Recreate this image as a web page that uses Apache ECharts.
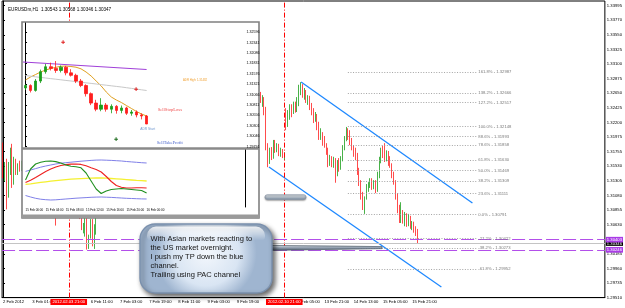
<!DOCTYPE html>
<html><head><meta charset="utf-8">
<script src="https://cdn.jsdelivr.net/npm/echarts/dist/echarts.min.js"></script>
<style>html,body{margin:0;padding:0;background:#fff;overflow:hidden}#chart{width:625px;height:308px}</style>
</head><body><div id="chart"></div>
<script>
// ===== Main chart: EURUSDm H1, bars from 2 Feb 2012 09:00 to 16 Feb 2012 00:00 =====
const openPrices = [
1.3180,1.3140,1.3155,1.3138,1.3152,1.3175,1.3130,1.3160,1.3148,1.3155,
1.3150,1.3158,1.3162,1.3155,1.3148,1.3160,1.3170,1.3165,1.3158,1.3162,
1.3168,1.3172,1.3165,1.3158,1.3150,1.3145,1.3152,1.3160,1.3155,1.3150,
1.3118,1.3135,1.3155,1.3162,1.3150,1.3145,1.3140,1.3105,1.3090,1.3084,
1.3080,1.3086,1.3082,1.3076,1.3058,1.3062,1.3072,1.3035,1.3045,
1.3068,1.3040,1.3060,1.3085,1.3105,1.3118,1.3125,1.3132,1.3140,1.3135,
1.3148,1.3155,1.3150,1.3160,1.3168,1.3162,1.3170,1.3178,1.3185,1.3180,
1.3192,1.3200,1.3195,1.3205,1.3212,1.3208,1.3218,1.3225,1.3220,1.3215,
1.3228,1.3235,1.3230,1.3238,1.3245,1.3240,1.3250,1.3255,1.3248,1.3252,
1.3260,1.3265,1.3258,1.3262,1.3270,1.3275,1.3268,1.3272,1.3280,1.3285,
1.3278,1.3270,1.3265,1.3272,1.3268,1.3262,1.3255,1.3260,1.3265,1.3270,
1.3262,1.3258,1.3265,1.3272,1.3278,1.3285,1.3280,1.3290,1.3298,1.3292,
1.3300,1.3308,1.3302,1.3310,1.3318,1.3312,1.3305,1.3296,1.3290,1.3285,
1.3292,1.3288,1.3280,1.3285,1.3290,1.3284,1.3278,1.3282,1.3288,1.3279,
1.3280,1.3248,1.3263,1.3256,1.3259,1.3240,1.3186,1.3160,1.3178,1.3168,
1.3191,1.3178,1.3184,1.3172,1.3178,1.3169,1.3240,1.3217,1.3229,1.3243,
1.3237,1.3249,1.3240,1.3256,1.3274,1.3277,1.3263,1.3268,1.3256,1.3259,
1.3245,1.3237,1.3228,1.3232,1.3213,1.3200,1.3205,1.3191,1.3186,1.3175,
1.3158,1.3166,1.3155,1.3163,1.3148,1.3158,1.3151,1.3166,1.3182,1.3197,
1.3206,1.3200,1.3191,1.3182,1.3175,1.3166,1.3148,1.3128,1.3109,1.3094,
1.3109,1.3120,1.3126,1.3132,1.3123,1.3129,1.3117,1.3140,1.3163,1.3175,
1.3171,1.3166,1.3174,1.3160,1.3154,1.3140,1.3129,1.3109,1.3086,1.3071,
1.3081,1.3071,1.3078,1.3068,1.3074,1.3061,1.3064,1.3057,1.30543];
const highPrices = [
1.3190,1.3160,1.3165,1.3160,1.3182,1.3188,1.3168,1.3165,1.3158,1.3162,
1.3162,1.3166,1.3165,1.3158,1.3164,1.3175,1.3174,1.3168,1.3166,1.3172,
1.3177,1.3175,1.3168,1.3161,1.3154,1.3156,1.3164,1.3163,1.3158,1.3178,
1.3140,1.3160,1.3168,1.3165,1.3154,1.3148,1.3144,1.3110,1.3095,1.3094,
1.3090,1.3090,1.3085,1.3080,1.3066,1.3076,1.3075,1.3048,1.3072,
1.3072,1.3064,1.3090,1.3110,1.3122,1.3130,1.3136,1.3144,1.3143,1.3152,
1.3160,1.3158,1.3164,1.3172,1.3171,1.3174,1.3182,1.3190,1.3188,1.3196,
1.3204,1.3203,1.3209,1.3216,1.3215,1.3222,1.3229,1.3228,1.3224,1.3232,
1.3239,1.3238,1.3242,1.3249,1.3248,1.3254,1.3259,1.3258,1.3256,1.3264,
1.3269,1.3268,1.3266,1.3274,1.3279,1.3278,1.3276,1.3284,1.3289,1.3288,
1.3281,1.3273,1.3276,1.3275,1.3271,1.3265,1.3264,1.3269,1.3274,1.3273,
1.3265,1.3269,1.3276,1.3282,1.3289,1.3288,1.3294,1.3302,1.3301,1.3304,
1.3312,1.3311,1.3314,1.3322,1.3321,1.3315,1.3308,1.3299,1.3293,1.3296,
1.3295,1.3291,1.3289,1.3294,1.3293,1.3287,1.3286,1.3292,1.3291,1.3286,
1.3282,1.3271,1.3268,1.3263,1.3260,1.3245,1.3189,1.3182,1.3183,1.3194,
1.3194,1.3189,1.3188,1.3182,1.3180,1.3175,1.3243,1.3240,1.3249,1.3249,
1.3253,1.3253,1.3260,1.3279,1.3283,1.3280,1.3274,1.3271,1.3263,1.3262,
1.3251,1.3243,1.3237,1.3234,1.3222,1.3212,1.3206,1.3200,1.3189,1.3182,
1.3171,1.3169,1.3168,1.3166,1.3163,1.3166,1.3169,1.3186,1.3200,1.3214,
1.3212,1.3209,1.3197,1.3186,1.3182,1.3174,1.3151,1.3132,1.3114,1.3107,
1.3126,1.3129,1.3135,1.3135,1.3132,1.3132,1.3145,1.3168,1.3182,1.3185,
1.3189,1.3178,1.3177,1.3169,1.3158,1.3145,1.3132,1.3112,1.3094,1.3098,
1.3086,1.3083,1.3081,1.3080,1.3077,1.3069,1.3068,1.3061,1.30568];
const lowPrices = [
1.3135,1.3130,1.3087,1.3105,1.3140,1.3120,1.3125,1.3140,1.3140,1.3145,
1.3146,1.3152,1.3150,1.3143,1.3145,1.3156,1.3160,1.3153,1.3154,1.3158,
1.3164,1.3161,1.3154,1.3146,1.3140,1.3142,1.3148,1.3151,1.3146,1.3062,
1.3110,1.3130,1.3150,1.3146,1.3140,1.3136,1.3130,1.3085,1.3078,1.3076,
1.3078,1.3076,1.3072,1.3055,1.3050,1.3045,1.3025,1.3026,1.3042,
1.3030,1.3026,1.3048,1.3075,1.3095,1.3112,1.3120,1.3128,1.3130,1.3132,
1.3144,1.3145,1.3147,1.3156,1.3158,1.3159,1.3166,1.3174,1.3176,1.3177,
1.3188,1.3190,1.3192,1.3201,1.3204,1.3205,1.3214,1.3216,1.3211,1.3212,
1.3224,1.3226,1.3227,1.3234,1.3236,1.3237,1.3246,1.3244,1.3245,1.3249,
1.3256,1.3254,1.3255,1.3259,1.3266,1.3264,1.3265,1.3269,1.3276,1.3274,
1.3266,1.3261,1.3262,1.3264,1.3258,1.3251,1.3252,1.3256,1.3261,1.3258,
1.3254,1.3255,1.3261,1.3268,1.3274,1.3276,1.3277,1.3286,1.3288,1.3289,
1.3296,1.3298,1.3299,1.3306,1.3308,1.3301,1.3292,1.3286,1.3281,1.3282,
1.3284,1.3276,1.3277,1.3282,1.3280,1.3274,1.3275,1.3279,1.3276,1.3271,
1.3236,1.3245,1.3251,1.3245,1.3232,1.3178,1.3152,1.3157,1.3163,1.3165,
1.3174,1.3175,1.3169,1.3168,1.3166,1.3163,1.3209,1.3214,1.3225,1.3229,
1.3234,1.3236,1.3237,1.3246,1.3263,1.3259,1.3256,1.3251,1.3248,1.3240,
1.3232,1.3220,1.3222,1.3209,1.3194,1.3194,1.3185,1.3182,1.3171,1.3152,
1.3154,1.3152,1.3151,1.3128,1.3138,1.3145,1.3148,1.3161,1.3178,1.3192,
1.3194,1.3186,1.3178,1.3168,1.3163,1.3140,1.3123,1.3102,1.3086,1.3080,
1.3102,1.3114,1.3120,1.3117,1.3118,1.3112,1.3114,1.3135,1.3158,1.3166,
1.3160,1.3161,1.3154,1.3151,1.3135,1.3125,1.3102,1.3081,1.3066,1.3066,
1.3065,1.3061,1.3060,1.3061,1.3057,1.3055,1.3051,1.3046,1.30346];
const closePrices = [
1.3140,1.3155,1.3138,1.3152,1.3175,1.3130,1.3160,1.3148,1.3155,1.3150,
1.3158,1.3162,1.3155,1.3148,1.3160,1.3170,1.3165,1.3158,1.3162,1.3168,
1.3172,1.3165,1.3158,1.3150,1.3145,1.3152,1.3160,1.3155,1.3150,1.3118,
1.3135,1.3155,1.3162,1.3150,1.3145,1.3140,1.3135,1.3090,1.3084,1.3080,
1.3086,1.3082,1.3076,1.3058,1.3062,1.3072,1.3035,1.3045,1.3068,
1.3040,1.3060,1.3085,1.3105,1.3118,1.3125,1.3132,1.3140,1.3135,1.3148,
1.3155,1.3150,1.3160,1.3168,1.3162,1.3170,1.3178,1.3185,1.3180,1.3192,
1.3200,1.3195,1.3205,1.3212,1.3208,1.3218,1.3225,1.3220,1.3215,1.3228,
1.3235,1.3230,1.3238,1.3245,1.3240,1.3250,1.3255,1.3248,1.3252,1.3260,
1.3265,1.3258,1.3262,1.3270,1.3275,1.3268,1.3272,1.3280,1.3285,1.3278,
1.3270,1.3265,1.3272,1.3268,1.3262,1.3255,1.3260,1.3265,1.3270,1.3262,
1.3258,1.3265,1.3272,1.3278,1.3285,1.3280,1.3290,1.3298,1.3292,1.3300,
1.3308,1.3302,1.3310,1.3318,1.3312,1.3305,1.3296,1.3290,1.3285,1.3292,
1.3288,1.3280,1.3285,1.3290,1.3284,1.3278,1.3282,1.3288,1.3279,1.3280,
1.3248,1.3263,1.3256,1.3259,1.3240,1.3186,1.3160,1.3178,1.3168,1.3191,
1.3178,1.3184,1.3172,1.3178,1.3169,1.3171,1.3213,1.3232,1.3243,1.3237,
1.3249,1.3240,1.3256,1.3274,1.3277,1.3263,1.3268,1.3256,1.3259,1.3245,
1.3237,1.3228,1.3232,1.3213,1.3200,1.3205,1.3191,1.3186,1.3175,1.3158,
1.3166,1.3155,1.3163,1.3148,1.3158,1.3151,1.3166,1.3182,1.3197,1.3206,
1.3200,1.3191,1.3182,1.3175,1.3166,1.3148,1.3128,1.3109,1.3094,1.3109,
1.3120,1.3126,1.3132,1.3123,1.3129,1.3117,1.3140,1.3163,1.3175,1.3171,
1.3166,1.3174,1.3160,1.3154,1.3140,1.3129,1.3109,1.3086,1.3071,1.3081,
1.3071,1.3078,1.3068,1.3074,1.3061,1.3064,1.3057,1.30543,1.30347];

const SLOTS = 330;                 // visible bar slots incl. right shift
const timeLabels = ['2 Feb 2012','3 Feb 01:00','','6 Feb 11:00','7 Feb 03:00','7 Feb 19:00','8 Feb 11:00',
  '9 Feb 03:00','9 Feb 19:00','','13 Feb 05:00','13 Feb 21:00','14 Feb 13:00','15 Feb 05:00','15 Feb 21:00']; // every 16 bars
const priceTickLabels = ['1.29510','1.29735','1.29960','1.30185','1.30410','1.30630','1.30855','1.31080','1.31305',
  '1.31530','1.31755','1.31975','1.32200','1.32425','1.32650','1.32875','1.33100','1.33325','1.33550','1.33770','1.33995'];
const PRICE_BASE = 1.29510, PRICE_STEP = 0.00225, PRICE_TOP = 1.34081;

const separatorBars = [36, 154];
const separatorLabels = ['2012.02.03 21:00', '2012.02.10 21:00'];

const fibNames  = ['161.8%','138.2%','127.2%','100.0%','88.6%','78.6%','61.8%','50.0%','38.2%','23.6%','0.0%','-27.2%','-38.2%','-61.8%'];
const fibPrices = [1.32987,1.32666,1.32517,1.32148,1.31993,1.31858,1.31630,1.31469,1.31309,1.31111,1.30791,1.30422,1.30273,1.29952];
const fibStartBar = 188.8, fibEndBar = 259.7;

const channelUpper = [[163.2, 1.32833], [257.0, 1.30968]];
const channelLower = [[145.6, 1.31523], [240.0, 1.29674]];
const purpleLevels = [1.30403, 1.30246];
const bidPrice = 1.30346;

// ===== Inset (zoomed H1 view of 15 Feb) =====
const insetStart = 203;            // first main bar shown in the inset
const insetCount = 25;
const INSET_SLOTS = 44;
const insetTimeLabels = ['15 Feb 00:00','15 Feb 04:00','15 Feb 08:00','15 Feb 12:00','15 Feb 16:00','15 Feb 20:00','16 Feb 00:00'];
const insetTickLabels = ['1.29791','1.30046','1.30301','1.30556','1.30811','1.31066','1.31321','1.31576','1.31831','1.32086','1.32341','1.32596'];
const INSET_BASE = 1.29791, INSET_STEP = 0.00255, INSET_TOP = 1.32822;
const pacLine = [1.31425,1.31499,1.31560,1.31621,1.31670,1.31707,1.31736,1.31761,1.31768,1.31756,1.31739,1.31699,1.31621,
  1.31523,1.31401,1.31278,1.31131,1.31009,1.30935,1.30874,1.30800,1.30727,1.30653,1.30592,1.30543];
const greyLine = [1.31535,1.31520,1.31503,1.31488,1.31474,1.31459,1.31445,1.31430,1.31415,1.31401,1.31386,1.31371,1.31356,
  1.31342,1.31327,1.31312,1.31298,1.31283,1.31268,1.31254,1.31237,1.31220,1.31202,1.31185,1.31168];
const insetRed = 1.32079, insetRed2 = 1.31687, stopLoss = 1.30764, takeProfit = 1.29955, insetBid = 1.30347;
const purpleTrend = [[-0.5, 1.31866], [24, 1.31682]];
const insetSegments = [ // [fromBar, toBar, price, colour]
  [-0.5, 3, 1.31058, '#222'], [3.5, 7.5, 1.31964, '#222'], [7.5, 11.5, 1.31891, '#999'], [3.5, 10.5, 1.31621, '#222'],
  [11.5, 16, 1.31621, '#333'], [7.5, 11.5, 1.31450, '#222'], [18.5, 20, 1.30984, '#222'], [12, 15, 1.30592, '#222'],
  [16, 20, 1.30371, '#222'], [20.5, 24.3, 1.30764, '#111']];
// inset text notes: [bar, price, text, colour, size, serif]
const insetNotes = [
  [33.6, 1.31425, 'ADR High: 1.31482', '#f0a030', 2.8, false],
  [28.6, 1.30690, 'SellStopLoss', '#f05050', 4.6, true],
  [24.2, 1.30225, 'ADR Start', '#6f98cf', 3.3, false],
  [28.6, 1.29882, 'SellTakeProfit', '#4a66cc', 4.5, true],
  [7.4, 1.32332, '✚', '#e02020', 4.5, false],
  [21.9, 1.31180, '✚', '#e02020', 4.5, false],
  [17.9, 1.29955, '✚', '#1a6a1a', 4.5, false]];

// TDI oscillator
const OSC_MIN = 21.0735, OSC_MAX = 64.6947;
const tdiUpper = [48.32,49.39,50.46,51.53,52.45,53.22,53.98,54.60,54.98,55.36,55.74,56.12,56.43,56.74,56.96,57.04,56.89,56.74,56.51,56.28,55.89,55.59,55.28,54.98,54.75];
const tdiLower = [29.87,28.73,27.73,27.04,26.66,26.43,26.58,26.89,27.20,27.50,27.81,28.04,28.27,28.50,28.65,28.73,28.58,28.42,28.20,27.96,27.73,27.58,27.43,27.27,27.20];
const tdiBase  = [38.45,38.83,39.36,39.90,40.36,40.82,41.28,41.66,42.04,42.35,42.58,42.81,43.04,43.19,43.27,43.27,43.11,42.88,42.65,42.35,42.04,41.73,41.43,41.20,40.97];
const tdiSignal= [39.82,41.51,43.65,45.95,48.24,50.15,51.69,52.83,53.52,53.90,53.98,53.67,52.60,51.07,49.77,47.86,44.42,40.59,37.53,36.15,35.62,35.62,35.77,35.84,35.62];
const tdiRsi   = [41.74,50.15,53.98,55.28,56.05,56.28,55.82,54.75,53.22,52.22,51.92,51.07,47.09,40.97,34.85,31.41,33.32,34.47,34.85,35.23,34.85,34.47,34.08,33.70,31.79];

const calloutText = 'With Asian markets reacting to\nthe US market overnight.\nI push my TP down the blue\nchannel.\nTrailing using PAC channel';

// ---------- build ----------
const FONT = 'Liberation Sans, Arial, sans-serif';
const SERIF = 'Liberation Serif, Times New Roman, serif';
const mv = p => (p - PRICE_BASE) * 1e5;
const iv = p => (p - INSET_BASE) * 1e5;
const last = closePrices.length - 1;

const mainCats = Array.from({length: SLOTS}, (_, i) => String(i));
const mainCandles = closePrices.map((c, i) => [mv(openPrices[i]), mv(c), mv(lowPrices[i]), mv(highPrices[i])]);
const insetCats = Array.from({length: INSET_SLOTS}, (_, i) => String(i));
const insetCandles = [];
for (let k = 0; k < insetCount; k++) {
  const i = insetStart + k;
  insetCandles.push([iv(openPrices[i]), iv(closePrices[i]), iv(lowPrices[i]), iv(highPrices[i])]);
}
const labelEvery16 = i => i % 16 === 0 && (i / 16) < timeLabels.length;
const labelEvery4 = i => i % 4 === 0 && (i / 4) < insetTimeLabels.length;

const baseGraphics = [
  // inset window frame
  {type: 'rect', z: 50, shape: {x: 22, y: 22, width: 237, height: 196}, style: {fill: '#fff', stroke: '#808080', lineWidth: 1.6}},
  {type: 'rect', z: 58, shape: {x: 22, y: 147.3, width: 237, height: 2.4}, style: {fill: '#8a8a8a'}},
  {type: 'rect', z: 58, shape: {x: 22, y: 214.5, width: 237, height: 3.5}, style: {fill: '#9a9a9a'}},
  // small grey pill
  {type: 'rect', z: 90, shape: {x: 265, y: 194.8, width: 41, height: 4.6, r: 2.3},
    style: {fill: new echarts.graphic.LinearGradient(0, 0, 0, 1, [{offset: 0, color: '#f4f7fa'}, {offset: 1, color: '#76879a'}]),
      stroke: '#8a97a6', lineWidth: 0.5, shadowBlur: 1.5, shadowColor: 'rgba(0,0,0,0.35)', shadowOffsetY: 1}},
  // callout pointer
  {type: 'polygon', z: 99, shape: {points: [[266, 245.4], [382, 246.6], [382, 248.6], [266, 250.4]]},
    style: {fill: new echarts.graphic.LinearGradient(0, 0, 0, 1, [{offset: 0, color: '#e6ebf1'}, {offset: 0.5, color: '#8a98a8'}, {offset: 1, color: '#4c5968'}]),
      stroke: '#55626f', lineWidth: 0.5}},
  // callout bubble
  {type: 'rect', z: 100, shape: {x: 140, y: 224, width: 132, height: 69, r: 15},
    style: {fill: new echarts.graphic.RadialGradient(0.5, 0.42, 0.72, [{offset: 0, color: '#f3f7fc'}, {offset: 0.65, color: '#d9e5f3'}, {offset: 1, color: '#9fb5d0'}]),
      stroke: '#7a90ad', lineWidth: 1.4, shadowBlur: 5, shadowOffsetX: 2.5, shadowOffsetY: 3, shadowColor: 'rgba(0,0,0,0.6)'}},
  {type: 'rect', z: 101, shape: {x: 147, y: 226.5, width: 118, height: 14, r: [9, 9, 4, 4]},
    style: {fill: new echarts.graphic.LinearGradient(0, 0, 0, 1, [{offset: 0, color: 'rgba(255,255,255,0.85)'}, {offset: 1, color: 'rgba(255,255,255,0)'}])}},
  {type: 'text', z: 102, x: 150.5, y: 234, style: {text: calloutText, fontSize: 7.5, fontFamily: FONT, fill: '#141414', lineHeight: 9, verticalAlign: 'top'}}
];

const chart = echarts.init(document.getElementById('chart'), null, {renderer: 'canvas'});
const option = {
  animation: false,
  backgroundColor: '#fff',
  title: {text: `EURUSDm,H1  ${openPrices[last].toFixed(5)} ${highPrices[last].toFixed(5)} ${lowPrices[last].toFixed(5)} ${closePrices[last].toFixed(5)}`,
    left: 3, top: 2, textStyle: {fontSize: 4.6, fontWeight: 'normal', color: '#000', fontFamily: FONT}},
  grid: [
    {left: 1, top: 1, right: 19, bottom: 10.4, show: true, borderColor: '#000', borderWidth: 1, backgroundColor: '#fff'},
    {left: 23, top: 23, width: 222, height: 123.7},
    {left: 23, top: 150, width: 222, height: 57}
  ],
  xAxis: [
    {type: 'category', gridIndex: 0, data: mainCats, boundaryGap: true,
      axisLine: {lineStyle: {color: '#000', width: 1}},
      axisTick: {interval: labelEvery16, alignWithLabel: true, length: 2, lineStyle: {color: '#000'}},
      axisLabel: {interval: labelEvery16, formatter: (v, i) => timeLabels[i / 16] || '', align: 'left',
        fontSize: 4.2, color: '#000', margin: 2, fontFamily: FONT}, splitLine: {show: false}},
    {type: 'value', gridIndex: 0, min: -0.5, max: SLOTS - 0.5, show: false},
    {type: 'category', gridIndex: 1, data: insetCats, boundaryGap: true, show: false},
    {type: 'value', gridIndex: 1, min: -0.5, max: INSET_SLOTS - 0.5, show: false},
    {type: 'category', gridIndex: 2, data: insetCats, boundaryGap: true, z: 60,
      axisLine: {show: false}, axisTick: {show: false},
      axisLabel: {interval: labelEvery4, formatter: (v, i) => insetTimeLabels[i / 4] || '', align: 'left',
        fontSize: 3, color: '#000', margin: 2, fontFamily: FONT}}
  ],
  yAxis: [
    {type: 'value', gridIndex: 0, position: 'right', min: 0, max: mv(PRICE_TOP), interval: PRICE_STEP * 1e5,
      axisLine: {show: true, lineStyle: {color: '#000'}}, axisTick: {show: true, length: 2, lineStyle: {color: '#000'}},
      splitLine: {show: false}, axisLabel: {showMaxLabel: false, fontSize: 4.2, color: '#000', margin: 2, fontFamily: FONT,
        formatter: v => priceTickLabels[Math.round(v / (PRICE_STEP * 1e5))] || ''}},
    {type: 'value', gridIndex: 1, position: 'right', min: 0, max: iv(INSET_TOP), interval: INSET_STEP * 1e5, z: 60,
      axisLine: {show: true, lineStyle: {color: '#000'}}, axisTick: {show: true, length: 1.5, lineStyle: {color: '#000'}},
      splitLine: {show: false}, axisLabel: {showMaxLabel: false, fontSize: 3.6, color: '#000', margin: 1.5, fontFamily: FONT,
        formatter: v => insetTickLabels[Math.round(v / (INSET_STEP * 1e5))] || ''}},
    {type: 'value', gridIndex: 2, position: 'right', min: OSC_MIN, max: OSC_MAX, z: 60,
      axisLine: {show: true, lineStyle: {color: '#000'}}, axisTick: {show: false}, axisLabel: {show: false}, splitLine: {show: false}}
  ],
  series: [
    {type: 'candlestick', name: 'EURUSD', xAxisIndex: 0, yAxisIndex: 0, data: mainCandles, barWidth: 1.3,
      itemStyle: {color: '#1a9e1a', color0: '#ff1e1e', borderColor: '#1a9e1a', borderColor0: '#ff1e1e', borderWidth: 0.8},
      markLine: {silent: true, symbol: 'none', animation: false,
        lineStyle: {color: '#ff0000', type: [5, 2, 1, 2], width: 1},
        label: {position: 'start', distance: 1.5, formatter: '{b}', color: '#fff', backgroundColor: '#ff0000',
          fontSize: 4.2, padding: [1, 2], fontFamily: FONT},
        data: separatorBars.map((b, j) => ({name: separatorLabels[j], xAxis: b}))}},
    {type: 'line', name: 'chanU', xAxisIndex: 1, yAxisIndex: 0, symbol: 'none', silent: true,
      data: channelUpper.map(d => [d[0], mv(d[1])]), lineStyle: {color: '#1e88ff', width: 1.3}},
    {type: 'line', name: 'chanL', xAxisIndex: 1, yAxisIndex: 0, symbol: 'none', silent: true,
      data: channelLower.map(d => [d[0], mv(d[1])]), lineStyle: {color: '#1e88ff', width: 1.3}},
    {type: 'line', name: 'fibo', xAxisIndex: 1, yAxisIndex: 0, data: [], symbol: 'none', silent: true,
      markLine: {silent: true, symbol: 'none', animation: false,
        lineStyle: {color: '#9a9a9a', type: [1, 1.6], width: 0.9},
        label: {position: 'end', distance: 1, formatter: '{b}', color: '#7a7a7a', fontSize: 4.2, fontFamily: FONT},
        data: fibPrices.map((p, j) => [{name: fibNames[j] + ' - ' + p.toFixed(5), coord: [fibStartBar, mv(p)]}, {coord: [fibEndBar, mv(p)]}])}},
    {type: 'line', name: 'bid', xAxisIndex: 1, yAxisIndex: 0, data: [], silent: true,
      markLine: {silent: true, symbol: 'none', animation: false,
        lineStyle: {color: '#c4c4c4', type: 'solid', width: 1},
        label: {position: 'end', distance: 1, color: '#fff', backgroundColor: '#000', fontSize: 4.2, padding: [0.5, 1], fontFamily: FONT,
          formatter: () => bidPrice.toFixed(5)},
        data: [{yAxis: mv(bidPrice)}]}},
    {type: 'line', name: 'purple', xAxisIndex: 1, yAxisIndex: 0, data: [], silent: true, z: 110,
      markLine: {silent: true, symbol: 'none', animation: false,
        lineStyle: {color: '#b34fea', type: [13, 4], width: 1.1},
        label: {position: 'end', distance: 1, color: '#fff', backgroundColor: '#a93be6', fontSize: 4.2, padding: [0.8, 1], fontFamily: FONT,
          formatter: p => purpleLevels[p.dataIndex].toFixed(5)},
        data: purpleLevels.map(p => ({yAxis: mv(p)}))}},

    // ---- inset upper panel ----
    {type: 'candlestick', name: 'inset', xAxisIndex: 2, yAxisIndex: 1, data: insetCandles, barWidth: 3, z: 62,
      itemStyle: {color: '#1a9e1a', color0: '#ff1e1e', borderColor: '#1a9e1a', borderColor0: '#ff1e1e', borderWidth: 0.8},
      markLine: {silent: true, symbol: 'none', animation: false, lineStyle: {type: 'solid', width: 1},
        data: [
          {yAxis: iv(insetRed), lineStyle: {color: '#ff8a8a'}, label: {position: 'end', distance: 0, formatter: insetRed.toFixed(5),
            color: '#fff', backgroundColor: '#ff3b3b', fontSize: 3.6, padding: [0.5, 0.5], fontFamily: FONT}},
          {yAxis: iv(insetRed2), lineStyle: {color: '#ff9a9a'}, label: {show: false}},
          {yAxis: iv(insetBid), lineStyle: {color: '#b8b8b8'}, label: {position: 'end', distance: 0, formatter: insetBid.toFixed(5),
            color: '#fff', backgroundColor: '#000', fontSize: 3.6, padding: [0.5, 0.5], fontFamily: FONT}},
          [{coord: [22, iv(stopLoss)], lineStyle: {color: '#ff8080'}, label: {show: false}}, {coord: [43.5, iv(stopLoss)]}],
          [{coord: [4, iv(takeProfit)], lineStyle: {color: '#5a78d8', type: [1, 1.4]}, label: {show: false}}, {coord: [43.5, iv(takeProfit)]}],
          {xAxis: 24, lineStyle: {color: '#888', type: [1, 1.4]}, label: {show: false}}
        ]}},
    {type: 'line', name: 'pac', xAxisIndex: 2, yAxisIndex: 1, data: pacLine.map(iv), symbol: 'none', silent: true, z: 61,
      lineStyle: {color: '#e0a020', width: 1}},
    {type: 'line', name: 'grey', xAxisIndex: 2, yAxisIndex: 1, data: greyLine.map(iv), symbol: 'none', silent: true, z: 61,
      lineStyle: {color: '#c8c8c8', width: 1}},
    {type: 'line', name: 'purpleTrend', xAxisIndex: 3, yAxisIndex: 1, data: purpleTrend.map(d => [d[0], iv(d[1])]), symbol: 'none', silent: true, z: 61,
      lineStyle: {color: '#a040d8', width: 1.2}},
    {type: 'line', name: 'segments', xAxisIndex: 3, yAxisIndex: 1, data: [], silent: true, z: 61,
      markLine: {silent: true, symbol: 'none', animation: false, label: {show: false},
        data: insetSegments.map(s => [{coord: [s[0], iv(s[2])], lineStyle: {color: s[3], width: 1, type: 'solid'}}, {coord: [s[1], iv(s[2])]}])}},

    // ---- inset TDI panel ----
    {type: 'line', name: 'tdiUp', xAxisIndex: 4, yAxisIndex: 2, data: tdiUpper, symbol: 'none', silent: true, z: 61, lineStyle: {color: '#8080e8', width: 1}},
    {type: 'line', name: 'tdiLo', xAxisIndex: 4, yAxisIndex: 2, data: tdiLower, symbol: 'none', silent: true, z: 61, lineStyle: {color: '#8080e8', width: 1}},
    {type: 'line', name: 'tdiBase', xAxisIndex: 4, yAxisIndex: 2, data: tdiBase, symbol: 'none', silent: true, z: 61, lineStyle: {color: '#f4f030', width: 1.3}},
    {type: 'line', name: 'tdiSig', xAxisIndex: 4, yAxisIndex: 2, data: tdiSignal, symbol: 'none', silent: true, z: 62, lineStyle: {color: '#ee2020', width: 1.1}},
    {type: 'line', name: 'tdiRsi', xAxisIndex: 4, yAxisIndex: 2, data: tdiRsi, symbol: 'none', silent: true, z: 63, lineStyle: {color: '#209020', width: 1.1},
      markLine: {silent: true, symbol: 'none', animation: false,
        lineStyle: {color: '#aaaaaa', type: [1, 1.4], width: 0.9},
        label: {position: 'end', distance: 2, color: '#000', fontSize: 3.6, fontFamily: FONT, formatter: '{b}'},
        data: [
          {name: '50', yAxis: 50}, {name: '32', yAxis: 32},
          {name: OSC_MAX.toFixed(4), yAxis: OSC_MAX - 0.9, lineStyle: {opacity: 0}},
          {name: OSC_MIN.toFixed(4), yAxis: OSC_MIN + 0.9, lineStyle: {opacity: 0}},
          {xAxis: 24, name: '', lineStyle: {color: '#888', type: [1, 1.4]}, label: {show: false}}
        ]}}
  ],
  graphic: {elements: baseGraphics}
};
chart.setOption(option);

// inset text notes, placed through the inset's own axes
const noteGraphics = insetNotes.map(n => {
  const pt = chart.convertToPixel({xAxisIndex: 3, yAxisIndex: 1}, [n[0], iv(n[1])]);
  return {type: 'text', z: 70, x: pt[0], y: pt[1],
    style: {text: n[2], fill: n[3], fontSize: n[4], fontFamily: n[5] ? SERIF : FONT, align: 'center', verticalAlign: 'middle'}};
});
chart.setOption({graphic: {elements: baseGraphics.concat(noteGraphics)}});
</script></body></html>
